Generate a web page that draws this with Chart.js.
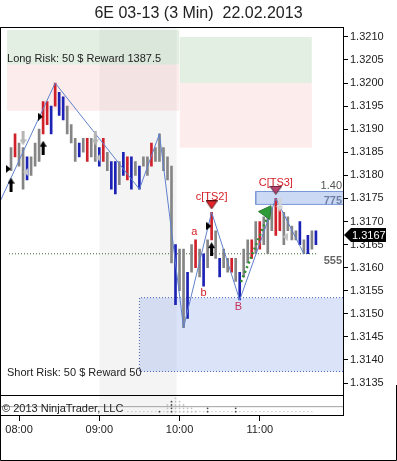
<!DOCTYPE html>
<html>
<head>
<meta charset="utf-8">
<script src="https://cdn.jsdelivr.net/npm/chart.js@4.4.1/dist/chart.umd.min.js"></script>
<style>
  html, body { margin: 0; padding: 0; background: #fff; }
</style>
</head>
<body>
<canvas id="chart" width="397" height="461"></canvas>
<script>
const titleText = "6E 03-13 (3 Min)  22.02.2013";

// 3 minute bars, first bar at 07:54 (minutes after midnight)
const firstBar = 474;
const barStep = 3;
const highs = [
  1.3186, 1.3189, 1.3187, 1.3186, 1.3184, 1.3184, 1.3187, 1.3190, 1.3196, 1.3196,
  1.3195, 1.3200, 1.3198, 1.3197, 1.3195, 1.3191, 1.3188, 1.3187, 1.3188, 1.3188,
  1.3188, 1.3189, 1.3186, 1.3188, 1.3185, 1.3183, 1.3183, 1.3183, 1.3185, 1.3184,
  1.3184, 1.3183, 1.3182, 1.3184, 1.3184, 1.3187, 1.3186, 1.3189, 1.3186, 1.3184,
  1.3182, 1.3165, 1.3164, 1.3164, 1.3159, 1.3165, 1.3166, 1.3164, 1.3163, 1.3166,
  1.3172, 1.3168, 1.3162, 1.3164, 1.3162, 1.3162, 1.3162, 1.3159, 1.3164, 1.3166,
  1.3166, 1.3170, 1.3170, 1.3171, 1.3172, 1.3173, 1.3175, 1.3173, 1.3172, 1.3171,
  1.3169, 1.3168, 1.3170, 1.3166, 1.3167, 1.3168, 1.3168
];
const lows = [
  1.3181, 1.3184, 1.3182, 1.3177, 1.3179, 1.3180, 1.3182, 1.3183, 1.3189, 1.3191,
  1.3189, 1.3195, 1.3193, 1.3192, 1.3189, 1.3187, 1.3183, 1.3184, 1.3185, 1.3183,
  1.3184, 1.3183, 1.3182, 1.3183, 1.3181, 1.3177, 1.3176, 1.3178, 1.3180, 1.3179,
  1.3177, 1.3180, 1.3177, 1.3182, 1.3180, 1.3182, 1.3183, 1.3183, 1.3181, 1.3179,
  1.3161, 1.3152, 1.3155, 1.3147, 1.3149, 1.3159, 1.3160, 1.3158, 1.3156, 1.3160,
  1.3166, 1.3162, 1.3158, 1.3160, 1.3159, 1.3159, 1.3157, 1.3153, 1.3158, 1.3161,
  1.3162, 1.3163, 1.3164, 1.3165, 1.3163, 1.3168, 1.3167, 1.3168, 1.3165, 1.3168,
  1.3166, 1.3166, 1.3165, 1.3163, 1.3163, 1.3164, 1.3165
];
// g = neutral, r = up trend, b = down trend
const barColors = ("grggbgggrr" + "brbbgggbgr" + "ggbrgbbgbr" + "bgbggrgggg" +
                   "gbggbgrgbg" + "rgbggrgbgg" + "rgrgggrrgg" + "ggbgbgb").split("");
const lastPrice = 1.3167;

// swing line
const zigTimes = [462, 507, 570, 585, 603, 624, 645, 672, 693];
const zigPrices = [1.3172, 1.3200, 1.3177, 1.3189, 1.3147, 1.3172, 1.3153, 1.3175, 1.3163];

// axes
const xTicks = [480, 540, 600, 660];
const yTicks = [1.3135, 1.3140, 1.3145, 1.3150, 1.3155, 1.3160, 1.3165, 1.3170,
                1.3175, 1.3180, 1.3185, 1.3190, 1.3195, 1.3200, 1.3205, 1.3210];

// long risk/reward zones
const longStart = [471, 600];
const longEnd = [600, 699];
const longTarget = [1.32115, 1.3210];
const longEntry = [1.3204, 1.3200];
const longStop = [1.3194, 1.3186];
const sessionBand = [540, 598];

// short zone and target box
const shortStart = 570;
const shortTop = 1.31535;
const shortBottom = 1.31375;
const boxStart = 657;
const boxTop = 1.31765;
const boxBottom = 1.31737;
const levelLine = { from: 472.5, to: 703.5, price: 1.3163 };
const greenPathTimes = [646, 666];
const greenPathPrices = [1.31569, 1.31712];

// signals
const upArrowTimes = [474, 498, 624];
const upArrowPrices = [1.3178, 1.3186, 1.3164];
const downArrowTimes = [483, 537];
const downArrowPrices = [1.3188, 1.3188];
const lightArrowTimes = [675];
const lightArrowPrices = [1.31736];
const rightTriTimes = [472, 496, 622];
const rightTriPrices = [1.31814, 1.31927, 1.3169];
const leftTriTimes = [485, 539, 679];
const leftTriPrices = [1.31807, 1.31838, 1.31667];
const ts2Marker = { t: 624, p: 1.31736 };
const ts3Marker = { t: 672, p: 1.31768 };
const greenMarker = { t: 665, p: 1.3172 };

// texts
const noteTexts = ["c[TS2]", "C[TS3]", "a", "b", "B"];
const noteTimes = [624, 672, 611, 618, 644];
const notePrices = [1.31753, 1.31784, 1.31677, 1.31545, 1.31515];
const levelTexts = ["1.40", "775", "555"];
const levelPrices = [1.31777, 1.31745, 1.31614];
const riskTexts = ["Long Risk: 50 $ Reward 1387.5", "Short Risk: 50 $ Reward 50"];
const riskPrices = [1.32052, 1.31372];
const riskTime = 471;

// lower panel dots
const darkDotTimes = [585, 594, 621, 642];
const darkDotCounts = [1, 4, 2, 2];
const lightDotTimes = [591, 597, 600, 603, 606, 609, 612];
const lightDotCounts = [3, 5, 4, 3, 2, 2, 1];

const xMin = 465.75, xMax = 722.25;
const yMin = 1.31324, yMax = 1.32121;
const FONT = '"Liberation Sans", Arial, sans-serif';
const palette = { g: "#858585", r: "#d0202a", b: "#1c22b4" };

function hhmm(m) {
  const h = Math.floor(m / 60), mm = m % 60;
  return String(h).padStart(2, "0") + ":" + String(mm).padStart(2, "0");
}

function icon(w, h, draw) {
  const c = document.createElement("canvas");
  c.width = w; c.height = h;
  draw(c.getContext("2d"));
  return c;
}
const upArrow = icon(7, 14, g => {
  g.fillStyle = "#000";
  g.beginPath(); g.moveTo(3.5, 0); g.lineTo(7, 6); g.lineTo(5, 6); g.lineTo(5, 14);
  g.lineTo(2, 14); g.lineTo(2, 6); g.lineTo(0, 6); g.closePath(); g.fill();
});
const downArrow = (col) => icon(7, 14, g => {
  g.fillStyle = col;
  g.beginPath(); g.moveTo(3.5, 14); g.lineTo(7, 8); g.lineTo(5, 8); g.lineTo(5, 0);
  g.lineTo(2, 0); g.lineTo(2, 8); g.lineTo(0, 8); g.closePath(); g.fill();
});
const rightTri = icon(5, 8, g => {
  g.fillStyle = "#000";
  g.beginPath(); g.moveTo(0, 0); g.lineTo(5, 4); g.lineTo(0, 8); g.closePath(); g.fill();
});
const leftTri = icon(5, 8, g => {
  g.fillStyle = "#c4c4c4";
  g.beginPath(); g.moveTo(5, 0); g.lineTo(0, 4); g.lineTo(5, 8); g.closePath(); g.fill();
});
const downTri = (fill, stroke, w) => icon(w, 9, g => {
  g.fillStyle = fill; g.strokeStyle = stroke;
  g.beginPath(); g.moveTo(0.5, 0.5); g.lineTo(w - 0.5, 0.5); g.lineTo(w / 2, 8.5); g.closePath();
  g.fill(); g.stroke();
});

function pts(times, prices) {
  return times.map((t, i) => ({ x: t, y: prices[i] }));
}
function rect(x0, x1, top, bottom, color, axis, order) {
  return {
    type: "line", data: [{ x: x0, y: top }, { x: x1, y: top }],
    fill: { value: bottom }, backgroundColor: color, borderColor: "transparent",
    borderWidth: 1, pointRadius: 0, yAxisID: axis, order: order
  };
}
function marker(data, style, order, extra) {
  return Object.assign({
    type: "scatter", data: data, pointStyle: style, pointRadius: 5,
    yAxisID: "y", order: order
  }, extra || {});
}
function dots(times, counts, color) {
  const d = [];
  times.forEach((t, i) => { for (let j = 0; j < counts[i]; j++) d.push({ x: t, y: j }); });
  return { type: "scatter", data: d, pointRadius: 0.9, backgroundColor: color,
           borderWidth: 0, yAxisID: "y2", order: 2 };
}

const bars = highs.map((h, i) => ({ x: firstBar + i * barStep, y: [lows[i], h] }));

const datasets = [
  rect(sessionBand[0], sessionBand[1], yMax, yMin, "rgba(0,0,0,0.045)", "y", 30),
  rect(sessionBand[0], sessionBand[1], 5, -1, "rgba(0,0,0,0.045)", "y2", 30),
  rect(longStart[0], longEnd[0], longTarget[0], longEntry[0], "rgba(120,175,120,0.2)", "y", 29),
  rect(longStart[0], longEnd[0], longEntry[0], longStop[0], "rgba(235,130,130,0.15)", "y", 29),
  rect(longStart[1], longEnd[1], longTarget[1], longEntry[1], "rgba(120,175,120,0.2)", "y", 29),
  rect(longStart[1], longEnd[1], longEntry[1], longStop[1], "rgba(235,130,130,0.15)", "y", 29),
  rect(shortStart, xMax, shortTop, shortBottom, "rgba(150,175,235,0.35)", "y", 28),
  {
    type: "line", data: [{ x: xMax, y: shortTop }, { x: shortStart, y: shortTop },
                         { x: shortStart, y: shortBottom }, { x: xMax, y: shortBottom }],
    borderColor: "#4a64b8", borderWidth: 1, borderDash: [1, 2], pointRadius: 0,
    fill: false, yAxisID: "y", order: 27
  },
  rect(boxStart, xMax, boxTop, boxBottom, "rgba(160,185,235,0.55)", "y", 26),
  {
    type: "line", data: [{ x: xMax, y: boxTop }, { x: boxStart, y: boxTop },
                         { x: boxStart, y: boxBottom }, { x: xMax, y: boxBottom }],
    borderColor: "#7b98d6", borderWidth: 1, pointRadius: 0, fill: false,
    yAxisID: "y", order: 25
  },
  {
    type: "line", data: [{ x: levelLine.from, y: levelLine.price }, { x: levelLine.to, y: levelLine.price }],
    borderColor: "#2f5f2f", borderWidth: 1, borderDash: [1, 2], pointRadius: 0,
    fill: false, yAxisID: "y", order: 24
  },
  {
    type: "bar", data: bars, backgroundColor: barColors.map(c => palette[c]),
    barThickness: 2, borderWidth: 0, borderSkipped: false, grouped: false,
    yAxisID: "y", order: 10
  },
  {
    type: "line", data: pts(zigTimes, zigPrices), borderColor: "#5f80cc",
    borderWidth: 1, pointRadius: 0, fill: false, yAxisID: "y", order: 8
  },
  {
    type: "line", data: pts(greenPathTimes, greenPathPrices), borderColor: "#2f8f35",
    borderWidth: 2.5, borderDash: [2, 3], pointRadius: 0, fill: false, yAxisID: "y", order: 7
  },
  marker(pts(upArrowTimes, upArrowPrices), upArrow, 1),
  marker(pts(downArrowTimes, downArrowPrices), downArrow("#b5b5b5"), 1),
  marker(pts(lightArrowTimes, lightArrowPrices), downArrow("#d2d2d2"), 1),
  marker(pts(rightTriTimes, rightTriPrices), rightTri, 1),
  marker(pts(leftTriTimes, leftTriPrices), leftTri, 1),
  marker([{ x: ts2Marker.t, y: ts2Marker.p }], downTri("#e8232a", "#5a1010", 12), 1),
  marker([{ x: ts3Marker.t, y: ts3Marker.p }], downTri("#b8436e", "#4a1a2a", 13), 1),
  marker([{ x: greenMarker.t, y: greenMarker.p }], "triangle", 1,
         { pointRadius: 8, rotation: 35, backgroundColor: "#2f9a38", borderColor: "#2a7a30", borderWidth: 1 }),
  {
    type: "line", data: [{ x: xMin, y: 1.5 }, { x: xMax, y: 1.5 }], borderColor: "#a0a0a0",
    borderWidth: 1, pointRadius: 0, fill: false, yAxisID: "y2", order: 3
  },
  {
    type: "line", data: [{ x: 561, y: 0 }, { x: 700, y: 0 }], borderColor: "#b0b0b0",
    borderWidth: 1, borderDash: [1, 3], pointRadius: 0, fill: false, yAxisID: "y2", order: 3
  },
  dots(lightDotTimes, lightDotCounts, "#c0c0c0"),
  dots(darkDotTimes, darkDotCounts, "#444")
];

const overlay = {
  id: "overlay",
  afterDatasetsDraw(chart) {
    const { ctx, scales } = chart;
    const x = scales.x, y = scales.y, y2 = scales.y2;
    ctx.save();
    ctx.font = "11px " + FONT;
    ctx.textBaseline = "middle";
    ctx.textAlign = "center";
    noteTexts.forEach((t, i) => {
      ctx.fillStyle = t === "B" ? "#c8305a" : "#d42028";
      ctx.fillText(t, x.getPixelForValue(noteTimes[i]), y.getPixelForValue(notePrices[i]));
    });
    ctx.textAlign = "right";
    const lvlCol = ["#555", "#6d7fa6", "#666"];
    levelTexts.forEach((t, i) => {
      ctx.font = (i === 0 ? "" : "bold ") + "11px " + FONT;
      ctx.fillStyle = lvlCol[i];
      ctx.fillText(t, chart.chartArea.right - 1, y.getPixelForValue(levelPrices[i]));
    });
    ctx.font = "11px " + FONT;
    ctx.textAlign = "left";
    ctx.fillStyle = "#222";
    riskTexts.forEach((t, i) => {
      ctx.fillText(t, x.getPixelForValue(riskTime), y.getPixelForValue(riskPrices[i]));
    });
    ctx.fillText("\u00a9 2013 NinjaTrader, LLC", chart.chartArea.left + 2, y2.getPixelForValue(0.9));
    ctx.restore();
  },
  afterDraw(chart) {
    const { ctx, chartArea: ca, scales } = chart;
    ctx.save();
    ctx.strokeStyle = "#000";
    ctx.lineWidth = 1;
    const sep = Math.round(scales.y2.top) + 0.5;
    const l = Math.round(ca.left) + 0.5, t = Math.round(ca.top) + 0.5;
    ctx.beginPath();
    ctx.moveTo(l, t);
    ctx.lineTo(Math.round(ca.right) + 0.5, t);
    ctx.moveTo(l, t);
    ctx.lineTo(l, Math.round(ca.bottom) + 0.5);
    ctx.moveTo(l, sep);
    ctx.lineTo(Math.round(ca.right) + 0.5, sep);
    // outer frame
    ctx.moveTo(0.5, t);
    ctx.lineTo(0.5, 460.5);
    ctx.lineTo(396.5, 460.5);
    ctx.lineTo(396.5, Math.round(ca.bottom) - 30);
    ctx.stroke();
    // last price marker
    const py = Math.round(scales.y.getPixelForValue(lastPrice));
    const x0 = Math.round(ca.right) + 1;
    ctx.fillStyle = "#000";
    ctx.beginPath();
    ctx.moveTo(x0, py); ctx.lineTo(x0 + 7, py - 7); ctx.lineTo(x0 + 42, py - 7);
    ctx.lineTo(x0 + 42, py + 7); ctx.lineTo(x0 + 7, py + 7); ctx.closePath(); ctx.fill();
    ctx.fillStyle = "#fff";
    ctx.font = "11px " + FONT;
    ctx.textBaseline = "middle";
    ctx.textAlign = "left";
    ctx.fillText(lastPrice.toFixed(4), x0 + 8, py + 0.5);
    ctx.restore();
  }
};

new Chart(document.getElementById("chart"), {
  type: "line",
  data: { datasets: datasets },
  options: {
    responsive: false,
    animation: false,
    devicePixelRatio: 1,
    layout: { autoPadding: false, padding: { left: 0, right: 0, top: 0, bottom: 1 } },
    plugins: {
      legend: { display: false },
      tooltip: { enabled: false },
      title: {
        display: true, text: titleText, color: "#222",
        font: { family: FONT, size: 16, weight: "normal" },
        padding: { top: 4, bottom: 4 }
      }
    },
    scales: {
      x: {
        type: "linear", min: xMin, max: xMax, offset: false,
        grid: { drawOnChartArea: false, drawTicks: true, tickLength: 6, color: "#000", offset: false },
        border: { display: true, color: "#000" },
        ticks: { color: "#222", padding: 2, font: { family: FONT, size: 11 },
                 maxRotation: 0, autoSkip: false, callback: v => hhmm(v) },
        afterBuildTicks: s => { s.ticks = xTicks.map(v => ({ value: v })); },
        afterFit: s => { s.height = 45; s.paddingLeft = 0; s.paddingRight = 0; }
      },
      y: {
        type: "linear", position: "right", min: yMin, max: yMax,
        stack: "panes", stackWeight: 368,
        grid: { drawOnChartArea: false, drawTicks: true, tickLength: 5, color: "#000" },
        border: { display: true, color: "#000" },
        ticks: { color: "#222", padding: 2, font: { family: FONT, size: 11 },
                 autoSkip: false, callback: v => v.toFixed(4) },
        afterBuildTicks: s => { s.ticks = yTicks.map(v => ({ value: v })); },
        afterFit: s => { s.width = 54; }
      },
      y2: {
        type: "linear", position: "right", min: -1, max: 5,
        stack: "panes", stackWeight: 20,
        grid: { display: false },
        border: { display: true, color: "#000" },
        ticks: { display: false },
        afterFit: s => { s.width = 54; }
      }
    }
  },
  plugins: [overlay]
});
</script>
</body>
</html>
